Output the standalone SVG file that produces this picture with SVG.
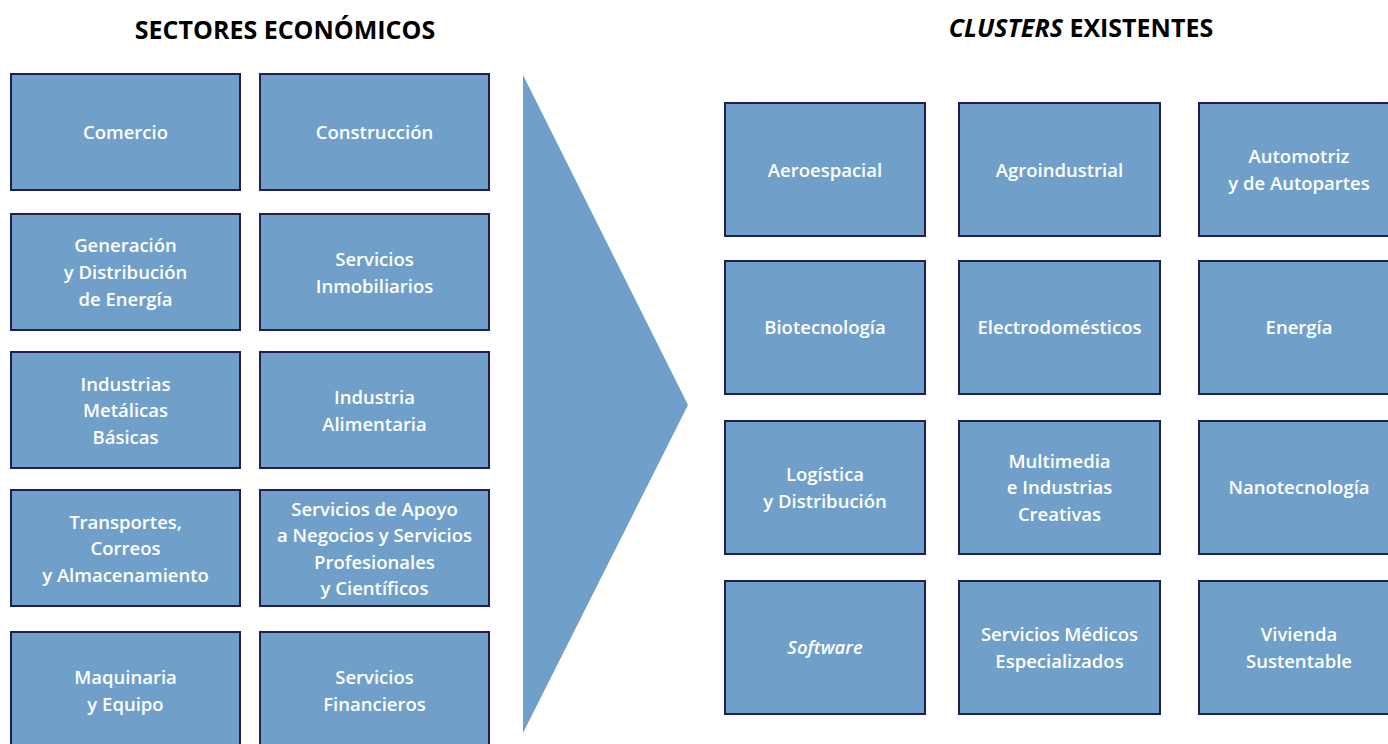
<svg xmlns="http://www.w3.org/2000/svg" width="1388" height="744" viewBox="0 0 1388 744">
<style>
.b{fill:#70a0ca;stroke:#20204f;stroke-width:2}
.t{font-family:"Open Sans","Liberation Sans",sans-serif;font-weight:600;font-size:18.5px;fill:#fff;text-anchor:middle}
.h{font-family:"Open Sans","Liberation Sans",sans-serif;font-weight:700;font-size:25px;fill:#000;text-anchor:middle}
</style>
<rect width="1388" height="744" fill="#fff"/>
<text class="h" x="285" y="39">SECTORES ECONÓMICOS</text>
<text class="h" x="1081" y="37"><tspan font-style="italic">CLUSTERS</tspan> EXISTENTES</text>
<g id="connectors">
<polygon points="523,75 688,405 523,733" fill="#70a0ca"/>
</g>
<g id="s1"><rect class="b" x="11" y="74" width="229" height="116"/><text class="t" x="125.5" y="139">Comercio</text></g>
<g id="s2"><rect class="b" x="260" y="74" width="229" height="116"/><text class="t" x="374.5" y="139">Construcción</text></g>
<g id="s3"><rect class="b" x="11" y="214" width="229" height="116"/><text class="t" x="125.5"><tspan x="125.5" y="252">Generación</tspan><tspan x="125.5" y="279">y Distribución</tspan><tspan x="125.5" y="306">de Energía</tspan></text></g>
<g id="s4"><rect class="b" x="260" y="214" width="229" height="116"/><text class="t" x="374.5"><tspan x="374.5" y="266">Servicios</tspan><tspan x="374.5" y="293">Inmobiliarios</tspan></text></g>
<g id="s5"><rect class="b" x="11" y="352" width="229" height="116"/><text class="t"><tspan x="125.5" y="391">Industrias</tspan><tspan x="125.5" y="417">Metálicas</tspan><tspan x="125.5" y="444">Básicas</tspan></text></g>
<g id="s6"><rect class="b" x="260" y="352" width="229" height="116"/><text class="t"><tspan x="374.5" y="404">Industria</tspan><tspan x="374.5" y="431">Alimentaria</tspan></text></g>
<g id="s7"><rect class="b" x="11" y="490" width="229" height="116"/><text class="t"><tspan x="125.5" y="529">Transportes,</tspan><tspan x="125.5" y="555">Correos</tspan><tspan x="125.5" y="582">y Almacenamiento</tspan></text></g>
<g id="s8"><rect class="b" x="260" y="490" width="229" height="116"/><text class="t"><tspan x="374.5" y="516">Servicios de Apoyo</tspan><tspan x="374.5" y="542">a Negocios y Servicios</tspan><tspan x="374.5" y="569">Profesionales</tspan><tspan x="374.5" y="595">y Científicos</tspan></text></g>
<g id="s9"><rect class="b" x="11" y="632" width="229" height="116"/><text class="t"><tspan x="125.5" y="684">Maquinaria</tspan><tspan x="125.5" y="711">y Equipo</tspan></text></g>
<g id="s10"><rect class="b" x="260" y="632" width="229" height="116"/><text class="t"><tspan x="374.5" y="684">Servicios</tspan><tspan x="374.5" y="711">Financieros</tspan></text></g>
<g id="c1"><rect class="b" x="725" y="103" width="200" height="133"/><text class="t" x="825" y="177">Aeroespacial</text></g>
<g id="c2"><rect class="b" x="959" y="103" width="201" height="133"/><text class="t" x="1059.5" y="177">Agroindustrial</text></g>
<g id="c3"><rect class="b" x="1199" y="103" width="200" height="133"/><text class="t"><tspan x="1299" y="163">Automotriz</tspan><tspan x="1299" y="190">y de Autopartes</tspan></text></g>
<g id="c4"><rect class="b" x="725" y="261" width="200" height="133"/><text class="t" x="825" y="334">Biotecnología</text></g>
<g id="c5"><rect class="b" x="959" y="261" width="201" height="133"/><text class="t" x="1059.5" y="334">Electrodomésticos</text></g>
<g id="c6"><rect class="b" x="1199" y="261" width="200" height="133"/><text class="t" x="1299" y="334">Energía</text></g>
<g id="c7"><rect class="b" x="725" y="421" width="200" height="133"/><text class="t"><tspan x="825" y="481">Logística</tspan><tspan x="825" y="508">y Distribución</tspan></text></g>
<g id="c8"><rect class="b" x="959" y="421" width="201" height="133"/><text class="t"><tspan x="1059.5" y="468">Multimedia</tspan><tspan x="1059.5" y="494">e Industrias</tspan><tspan x="1059.5" y="521">Creativas</tspan></text></g>
<g id="c9"><rect class="b" x="1199" y="421" width="200" height="133"/><text class="t" x="1299" y="494">Nanotecnología</text></g>
<g id="c10"><rect class="b" x="725" y="581" width="200" height="133"/><text class="t" x="825" y="654" font-style="italic">Software</text></g>
<g id="c11"><rect class="b" x="959" y="581" width="201" height="133"/><text class="t"><tspan x="1059.5" y="641">Servicios Médicos</tspan><tspan x="1059.5" y="668">Especializados</tspan></text></g>
<g id="c12"><rect class="b" x="1199" y="581" width="200" height="133"/><text class="t"><tspan x="1299" y="641">Vivienda</tspan><tspan x="1299" y="668">Sustentable</tspan></text></g>
</svg>
